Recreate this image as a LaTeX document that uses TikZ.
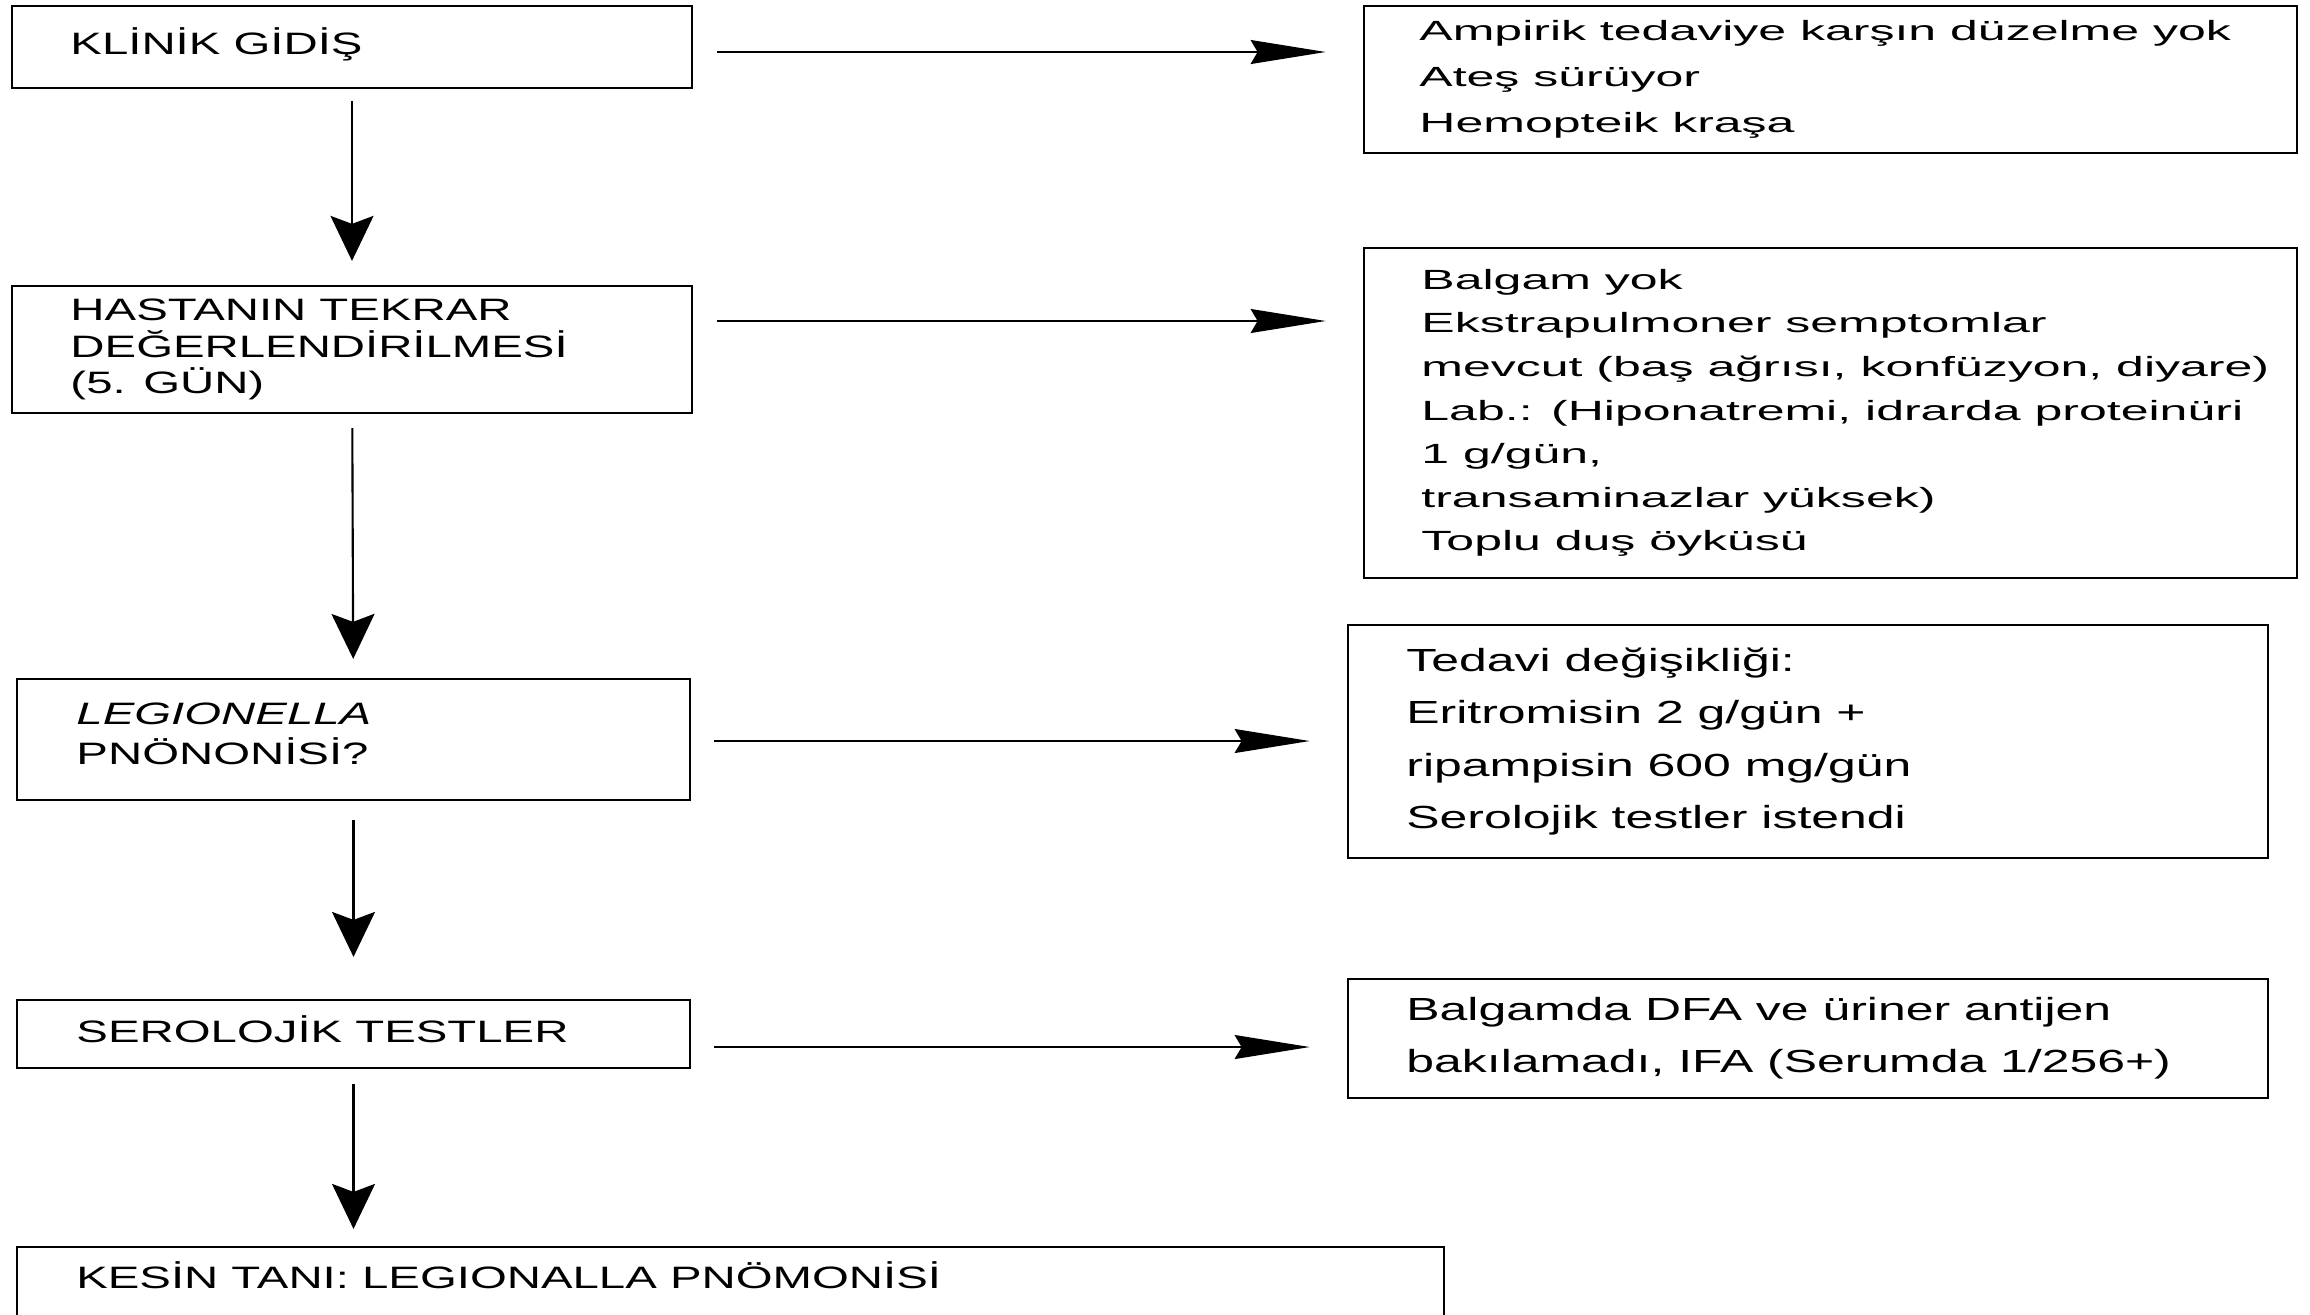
\documentclass[tikz,border=0pt]{standalone}
\usepackage{fontspec}
\setmainfont{Liberation Sans}
\newfontfamily\leftfont[FakeStretch=1.53]{Liberation Sans}
\newfontfamily\rightfont[FakeStretch=1.8]{Liberation Sans}
\newfontfamily\treatfont[FakeStretch=1.56]{Liberation Sans}
\usetikzlibrary{arrows.meta, positioning, calc}

\begin{document}
\begin{tikzpicture}[x=0.01cm, y=-0.01cm,
		box/.style={draw, line width=0.6pt, inner sep=0pt},
		ltext/.style={anchor=west, align=left, inner sep=0pt, font=\leftfont\fontsize{8.8}{10.3}\selectfont},
		rtext/.style={anchor=west, align=left, inner sep=0pt, font=\rightfont\fontsize{7.9}{13}\selectfont},
		ttext/.style={anchor=west, align=left, inner sep=0pt, font=\treatfont\fontsize{9.1}{14.8}\selectfont},
		down/.style={-{Stealth[length=0.45cm, width=0.43cm, inset=0.08cm]}, line width=0.6pt},
		side/.style={-{Stealth[length=0.75cm, width=0.24cm, inset=0.07cm]}, line width=0.45pt, shorten <=0.24cm, shorten >=0.37cm}]
		\useasboundingbox (0,0) rectangle (2310,1314);
		\node[box, minimum width=6.8cm, minimum height=0.82cm] (klinik) at (352,47) {};
		\node[box, minimum width=6.8cm, minimum height=1.27cm] (hasta) at (352,349.5) {};
		\node[box, minimum width=6.73cm, minimum height=1.21cm] (legio) at (353.5,739.5) {};
		\node[box, minimum width=6.73cm, minimum height=0.68cm] (sero) at (353.5,1034) {};
		\node[box, minimum width=14.27cm, minimum height=0.93cm] (kesin) at (730.5,1293.5) {};
		\node[ltext] (klinikt) at ([xshift=0.59cm, yshift=0.03cm]klinik.west) {KLİNİK GİDİŞ};
		\node[ltext] (hastat) at ([xshift=0.59cm]hasta.west) {HASTANIN TEKRAR\\DEĞERLENDİRİLMESİ\\(5. GÜN)};
		\node[ltext, font=\leftfont\fontsize{8.8}{11.3}\selectfont] (legiot) at ([xshift=0.6cm, yshift=0.06cm]legio.west) {\textit{LEGIONELLA}\\PNÖNONİSİ?};
		\node[ltext] (serot) at ([xshift=0.6cm, yshift=0.05cm]sero.west) {SEROLOJİK TESTLER};
		\node[ltext] (kesint) at ([xshift=0.6cm, yshift=-0.29cm]kesin.north west) {KESİN TANI: LEGIONALLA PNÖMONİSİ};

		\node[box, minimum width=9.33cm, minimum height=1.47cm] (ampirik) at (1830.5,79.5) {};
		\node[box, minimum width=9.33cm, minimum height=3.3cm] (balgam) at (1830.5,413) {};
		\node[box, minimum width=9.2cm, minimum height=2.33cm] (tedavi) at (1808,741.5) {};
		\node[box, minimum width=9.2cm, minimum height=1.19cm] (ifa) at (1808,1038.5) {};
		\node[rtext] (ampirikt) at ([xshift=0.56cm]ampirik.west) {Ampirik tedaviye karşın düzelme yok\\Ateş sürüyor\\Hemopteik kraşa};
		\node[rtext, font=\rightfont\fontsize{7.9}{12.4}\selectfont] (balgamt) at ([xshift=0.58cm]balgam.west)
		{Balgam yok\\Ekstrapulmoner semptomlar\\mevcut (baş ağrısı, konfüzyon, diyare)\\Lab.: (Hiponatremi, idrarda proteinüri\\1 g/gün,\\transaminazlar yüksek)\\Toplu duş öyküsü};
		\node[ttext] (tedavit) at ([xshift=0.59cm]tedavi.west) {Tedavi değişikliği:\\Eritromisin 2 g/gün +\\ripampisin 600 mg/gün\\Serolojik testler istendi};
		\node[ttext] (ifat) at ([xshift=0.59cm]ifa.west) {Balgamda DFA ve üriner antijen\\bakılamadı, IFA (Serumda 1/256+)};

		\draw[down, shorten <=0.12cm, shorten >=0.24cm] (klinik) -- (hasta);
		\draw[down, shorten <=0.14cm, shorten >=0.19cm] (hasta) -- (legio);
		\draw[down, shorten <=0.19cm, shorten >=0.42cm] (legio) -- (sero);
		\draw[down, shorten <=0.15cm, shorten >=0.17cm] (sero.south) -- (sero.south |- kesin.north);

		\draw[side] ([yshift=-0.05cm]klinik.east) -- ([yshift=-0.05cm]klinik.east -| ampirik.west);
		\draw[side] ([yshift=0.285cm]hasta.east) -- ([yshift=0.285cm]hasta.east -| balgam.west);
		\draw[side, shorten <=0.23cm] ([yshift=-0.015cm]legio.east) -- ([yshift=-0.015cm]legio.east -| tedavi.west);
		\draw[side, shorten <=0.23cm] ([yshift=-0.13cm]sero.east) -- ([yshift=-0.13cm]sero.east -| ifa.west);
	\end{tikzpicture}
\end{document}
